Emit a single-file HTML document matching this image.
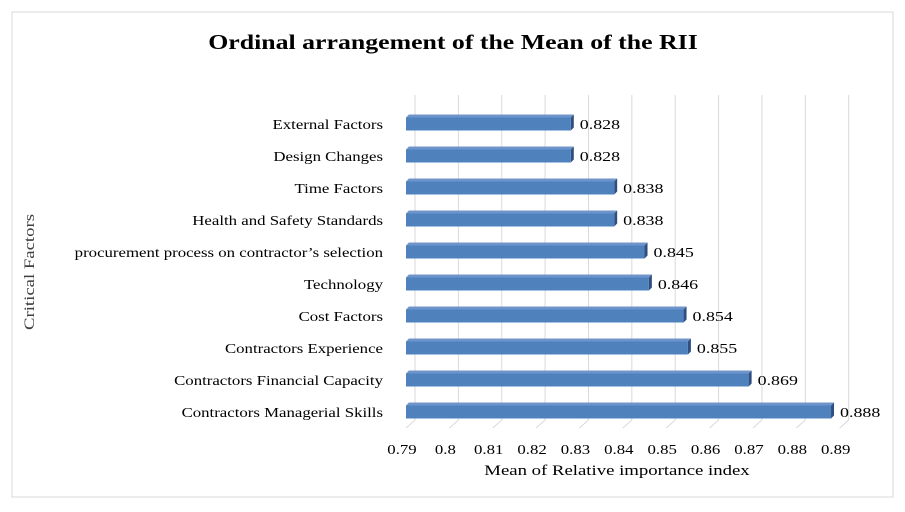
<!DOCTYPE html>
<html><head><meta charset="utf-8"><style>
body{margin:0;background:#fff;}
svg{display:block;font-family:"Liberation Serif",serif;}
</style></head><body>
<svg id="c" width="905" height="512">
<rect x="12" y="12" width="881" height="485" fill="#fff" stroke="#d9d9d9"/>
<text x="453" y="49" text-anchor="middle" font-size="21" font-weight="bold" transform="translate(453,0) scale(1.23,1) translate(-453,0)">Ordinal arrangement of the Mean of the RII</text>
<text transform="translate(34,272) rotate(-90) scale(1.25,1)" text-anchor="middle" font-size="15" fill="#404040">Critical Factors</text>
<text x="617" y="475" text-anchor="middle" font-size="15" transform="translate(617,0) scale(1.25,1) translate(-617,0)">Mean of Relative importance index</text>
<g id="grid"></g><g id="bars"></g>
</svg>
<script>
const categories=["External Factors","Design Changes","Time Factors","Health and Safety Standards","procurement process on contractor\u2019s selection","Technology","Cost Factors","Contractors Experience","Contractors Financial Capacity","Contractors Managerial Skills"];
const values=[0.828,0.828,0.838,0.838,0.845,0.846,0.854,0.855,0.869,0.888];
const ticks=[0.79,0.8,0.81,0.82,0.83,0.84,0.85,0.86,0.87,0.88,0.89];
const NS="http://www.w3.org/2000/svg";
const x0=406,xs=4337,min=0.79;
function X(v){return x0+(v-min)*xs;}
function Y(i){return 124+i*32;}
const grid=document.getElementById('grid'),bars=document.getElementById('bars');
function mk(tag,attrs,parent){const e=document.createElementNS(NS,tag);for(const k in attrs)e.setAttribute(k,attrs[k]);parent.appendChild(e);return e;}
function stretch(t,ax,f){t.setAttribute('transform',`translate(${ax},0) scale(${f},1) translate(${-ax},0)`);}
ticks.forEach(t=>{
 const x=X(t);
 const g=mk('line',{x1:x+9,y1:95,x2:x+9,y2:420,stroke:'#d9d9d9','stroke-width':1},grid);
 
 
 mk('line',{x1:x+9,y1:420,x2:x,y2:428,stroke:'#d9d9d9','stroke-width':1},grid);
 const tx=mk('text',{x:x-4,y:454,'text-anchor':'middle','font-size':14},grid);
 tx.textContent=String(t);
 
 
 stretch(tx,x-4,1.2);
});
values.forEach((v,i)=>{
 const y=Y(i),x=X(v),h=13;
 const g=mk('g',{},bars);
 
 
 mk('polygon',{points:`${x0},${y-h/2} ${x0+3},${y-h/2-3} ${x+3},${y-h/2-3} ${x},${y-h/2}`,fill:'#6f94cc'},g);
 mk('polygon',{points:`${x},${y-h/2} ${x+3},${y-h/2-3} ${x+3},${y+h/2-3} ${x},${y+h/2}`,fill:'#2f4f80'},g);
 mk('rect',{x:x0,y:y-h/2,width:x-x0,height:h,fill:'#4f81bd'},g);
 const v2=mk('text',{x:x+9,y:y+5,'font-size':14},bars);
 v2.textContent=v.toFixed(3);
 
 
 stretch(v2,x+9,1.28);
 const l=mk('text',{x:383,y:y+5,'text-anchor':'end','font-size':14},bars);
 l.textContent=categories[i];
 
 
 stretch(l,383,1.2);
});
</script>
</body></html>
